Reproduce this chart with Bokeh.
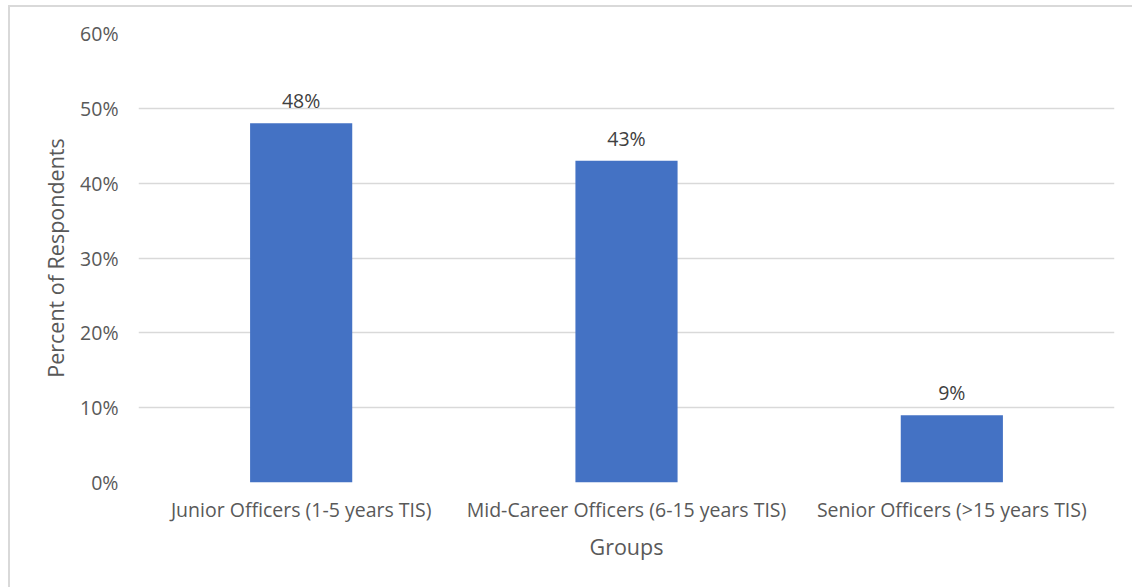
from bokeh.plotting import figure
from bokeh.models import ColumnDataSource, NumeralTickFormatter, FixedTicker, LabelSet
from bokeh.core.properties import value
from bokeh.embed import file_html
from bokeh.resources import INLINE

# Survey breakdown by time in service
groups = [
    "Junior Officers (1-5 years TIS)",
    "Mid-Career Officers (6-15 years TIS)",
    "Senior Officers (>15 years TIS)",
]
shares = [0.48, 0.43, 0.09]
share_labels = ["48%", "43%", "9%"]
y_ticks = [0.0, 0.1, 0.2, 0.3, 0.4, 0.5, 0.6]

FONT = "Open Sans"
BAR = "#4472C4"
GRID = "#d9d9d9"

src = ColumnDataSource(data=dict(group=groups, share=shares, label=share_labels))

p = figure(
    x_range=groups,
    y_range=(0, 0.6),
    width=1124,
    height=582,
    output_backend="svg",
    toolbar_location=None,
    min_border_left=128,
    min_border_right=20,
    min_border_top=26,
    min_border_bottom=107,
)
p.styles = {"border-left": "2px solid #d9d9d9", "border-top": "2px solid #d9d9d9",
            "margin-left": "8px", "margin-top": "5px"}
p.x_range.range_padding = 0
p.outline_line_color = None
p.background_fill_color = "white"
p.border_fill_color = "white"

p.vbar(x="group", top="share", width=0.314, source=src, fill_color=BAR, line_color=None)

p.add_layout(LabelSet(x="group", y="share", text="label", source=src,
                      text_align="center", text_baseline="bottom", y_offset=9,
                      text_font=value(FONT), text_font_size=value("19.5px"),
                      text_color="#404040"))

# gridlines
p.xgrid.grid_line_color = None
p.ygrid.grid_line_color = GRID
p.ygrid.grid_line_width = 1.5
p.yaxis.ticker = FixedTicker(ticks=y_ticks)
p.yaxis.formatter = NumeralTickFormatter(format="0%")

for ax in (p.xaxis[0], p.yaxis[0]):
    ax.axis_line_color = None
    ax.major_tick_line_color = None
    ax.minor_tick_line_color = None
    ax.major_tick_out = 0
    ax.major_tick_in = 0
    ax.major_label_text_font = FONT
    ax.major_label_text_font_size = "19.5px"
    ax.major_label_text_color = "#595959"
    ax.axis_label_text_font = FONT
    ax.axis_label_text_font_size = "21.5px"
    ax.axis_label_text_font_style = "normal"
    ax.axis_label_text_color = "#595959"

p.yaxis.axis_label = "Percent of Respondents"
p.yaxis.major_label_standoff = 20
p.yaxis.axis_label_standoff = 7
p.xaxis.axis_label = "Groups"
p.xaxis.major_label_standoff = 13
p.xaxis.axis_label_standoff = 6

open("out.html", "w").write(file_html(p, INLINE))
